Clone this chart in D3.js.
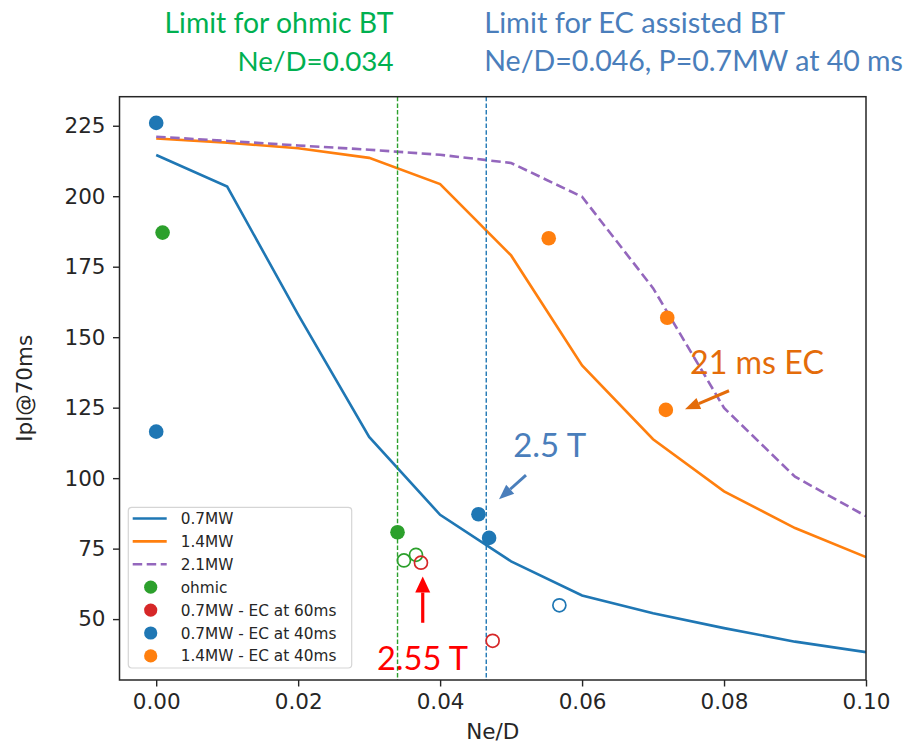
<!DOCTYPE html>
<html>
<head>
<meta charset="utf-8">
<script src="https://cdn.jsdelivr.net/npm/d3@7"></script>
<style>
body { margin: 0; background: #fff; }
svg { display: block; }
</style>
</head>
<body>
<svg id="chart" width="908" height="743"></svg>
<script>
// simulated scans, one value per Ne/D step
const neD     = [0, 0.01, 0.02, 0.03, 0.04, 0.05, 0.06, 0.07, 0.08, 0.09, 0.10];
const ipl07MW = [214.6, 203.4, 158.0, 114.6, 87.0, 70.5, 58.4, 52.1, 46.8, 42.0, 38.3];
const ipl14MW = [220.5, 219.0, 217.0, 213.6, 204.3, 179.0, 140.0, 113.8, 95.3, 82.3, 72.0];
const ipl21MW = [221.1, 219.6, 218.0, 216.5, 214.7, 211.8, 199.8, 167.4, 124.9, 100.5, 86.5];

// measured shots as [Ne/D, Ipl]; "fail" ones are drawn hollow
const ohmicOk    = [[0.0009, 187.1], [0.034, 80.8]];
const ohmicFail  = [[0.0349, 70.8], [0.0366, 72.8]];
const ec60Fail   = [[0.0373, 70.0], [0.0474, 42.3]];
const ec40Ok     = [[0, 226.0], [0, 116.5], [0.0454, 87.2], [0.0469, 78.8]];
const ec40Fail   = [[0.0568, 54.9]];
const ec40HiOk   = [[0.0553, 185.1], [0.072, 156.9], [0.0718, 124.2]];

const xTicks = [0, 0.02, 0.04, 0.06, 0.08, 0.10];
const yTicks = [50, 75, 100, 125, 150, 175, 200, 225];

const ohmicLimit = 0.034;
const ecLimit = 0.0465;

const C = {blue: '#1f77b4', orange: '#ff7f0e', green: '#2ca02c', red: '#d62728', purple: '#9467bd'};

const svg = d3.select('#chart');
const box = {left: 119.5, right: 866, top: 96.7, bottom: 680};

const x = d3.scaleLinear().domain([-0.00517, 0.1]).range([box.left, box.right]);
const y = d3.scaleLinear().domain([28.4, 235.3]).range([box.bottom, box.top]);

svg.append('defs').append('clipPath').attr('id', 'plotclip')
    .append('rect')
    .attr('x', box.left).attr('y', box.top)
    .attr('width', box.right - box.left).attr('height', box.bottom - box.top);

const plot = svg.append('g').attr('clip-path', 'url(#plotclip)');

const line = d3.line().x(function(d, i) { return x(neD[i]); }).y(function(d) { return y(d); });

plot.append('path').datum(ipl07MW).attr('d', line)
    .attr('fill', 'none').attr('stroke', C.blue).attr('stroke-width', 2.6);
plot.append('path').datum(ipl14MW).attr('d', line)
    .attr('fill', 'none').attr('stroke', C.orange).attr('stroke-width', 2.6);
plot.append('path').datum(ipl21MW).attr('d', line)
    .attr('fill', 'none').attr('stroke', C.purple).attr('stroke-width', 2.6)
    .attr('stroke-dasharray', '9.5,4.5');

// limit lines
[[ohmicLimit, C.green], [ecLimit, C.blue]].forEach(function(l) {
    plot.append('line')
        .attr('x1', x(l[0])).attr('x2', x(l[0]))
        .attr('y1', box.top).attr('y2', box.bottom)
        .attr('stroke', l[1]).attr('stroke-width', 1.4)
        .attr('stroke-dasharray', '4.5,2.2');
});

function dots(data, color, hollow) {
    plot.append('g').selectAll('circle').data(data).enter().append('circle')
        .attr('cx', function(d) { return x(d[0]); })
        .attr('cy', function(d) { return y(d[1]); })
        .attr('r', hollow ? 6.5 : 7.3)
        .attr('fill', hollow ? 'none' : color)
        .attr('stroke', color)
        .attr('stroke-width', hollow ? 1.7 : 0);
}
dots(ohmicOk, C.green, false);
dots(ohmicFail, C.green, true);
dots(ec60Fail, C.red, true);
dots(ec40Ok, C.blue, false);
dots(ec40Fail, C.blue, true);
dots(ec40HiOk, C.orange, false);

// axes
const tickFont = '"DejaVu Sans", sans-serif';
const xAxis = svg.append('g').attr('transform', 'translate(0,' + box.bottom + ')')
    .call(d3.axisBottom(x).tickValues(xTicks).tickFormat(d3.format('.2f')).tickSize(6.5).tickPadding(7.5));
const yAxis = svg.append('g').attr('transform', 'translate(' + box.left + ',0)')
    .call(d3.axisLeft(y).tickValues(yTicks).tickFormat(d3.format('d')).tickSize(6.5).tickPadding(7.5));
[xAxis, yAxis].forEach(function(a) {
    a.select('.domain').remove();
    a.selectAll('line').attr('stroke', '#262626').attr('stroke-width', 1.4);
    a.selectAll('text').attr('fill', '#262626').style('font-family', tickFont).style('font-size', '21.5px');
});

svg.append('rect')
    .attr('x', box.left).attr('y', box.top)
    .attr('width', box.right - box.left).attr('height', box.bottom - box.top)
    .attr('fill', 'none').attr('stroke', '#262626').attr('stroke-width', 1.5);

svg.append('text').text('Ne/D')
    .attr('x', (box.left + box.right) / 2).attr('y', 739)
    .attr('text-anchor', 'middle')
    .style('font-family', tickFont).style('font-size', '21.5px').attr('fill', '#262626');
svg.append('text').text('Ipl@70ms')
    .attr('transform', 'translate(32,' + ((box.top + box.bottom) / 2) + ') rotate(-90)')
    .attr('text-anchor', 'middle')
    .style('font-family', tickFont).style('font-size', '21.5px').attr('fill', '#262626');

// legend
const legendItems = [
    {label: '0.7MW', color: C.blue, kind: 'line'},
    {label: '1.4MW', color: C.orange, kind: 'line'},
    {label: '2.1MW', color: C.purple, kind: 'dash'},
    {label: 'ohmic', color: C.green, kind: 'dot'},
    {label: '0.7MW - EC at 60ms', color: C.red, kind: 'dot'},
    {label: '0.7MW - EC at 40ms', color: C.blue, kind: 'dot'},
    {label: '1.4MW - EC at 40ms', color: C.orange, kind: 'dot'}
];
const lg = svg.append('g').attr('transform', 'translate(128.3,507.3)');
lg.append('rect').attr('width', 223.4).attr('height', 160.7).attr('rx', 3.5)
    .attr('fill', 'white').attr('fill-opacity', 0.8)
    .attr('stroke', '#d5d5d5').attr('stroke-width', 1.2);
const row = lg.selectAll('g.row').data(legendItems).enter().append('g')
    .attr('class', 'row')
    .attr('transform', function(d, i) { return 'translate(0,' + (11.2 + i * 22.9) + ')'; });
row.filter(function(d) { return d.kind !== 'dot'; }).append('line')
    .attr('x1', 4.4).attr('x2', 38.4).attr('y1', 0).attr('y2', 0)
    .attr('stroke', function(d) { return d.color; }).attr('stroke-width', 2.6)
    .attr('stroke-dasharray', function(d) { return d.kind === 'dash' ? '9.5,4.5' : null; });
row.filter(function(d) { return d.kind === 'dot'; }).append('circle')
    .attr('cx', 22.4).attr('cy', 0).attr('r', 6.6)
    .attr('fill', function(d) { return d.color; });
row.append('text').text(function(d) { return d.label; })
    .attr('x', 52.4).attr('y', 0).attr('dy', '0.36em')
    .style('font-family', tickFont).style('font-size', '15.3px').attr('fill', '#262626');

// slide annotations
const noteFont = 'Lato, "Open Sans", sans-serif';
function note(text, px, py, color, width, anchor) {
    const t = svg.append('text').text(text)
        .attr('x', px).attr('y', py)
        .attr('text-anchor', anchor || 'start')
        .attr('fill', color)
        .style('font-family', noteFont).style('font-size', '30px');
    const w = t.node().getComputedTextLength();
    t.style('font-size', (30 * width / w) + 'px');
    return t;
}
function arrow(x1, y1, x2, y2, color, lw, headLen, headW) {
    const a = Math.atan2(y2 - y1, x2 - x1);
    const bx = x2 - headLen * Math.cos(a), by = y2 - headLen * Math.sin(a);
    svg.append('line').attr('x1', x1).attr('y1', y1).attr('x2', bx).attr('y2', by)
        .attr('stroke', color).attr('stroke-width', lw);
    const nx = -Math.sin(a) * headW / 2, ny = Math.cos(a) * headW / 2;
    svg.append('path')
        .attr('d', 'M' + x2 + ',' + y2 + 'L' + (bx + nx) + ',' + (by + ny) + 'L' + (bx - nx) + ',' + (by - ny) + 'Z')
        .attr('fill', color);
}

const green = '#00b050', slideBlue = '#4a7ebb', slideOrange = '#e46c0a';
note('Limit for ohmic BT', x(ohmicLimit) - 4, 33, green, 229, 'end');
note('Ne/D=0.034', x(ohmicLimit) - 4, 71, green, 156, 'end');
note('Limit for EC assisted BT', x(ecLimit) - 2, 33, slideBlue, 301, 'start');
note('Ne/D=0.046, P=0.7MW at 40 ms', x(ecLimit) - 2, 71, slideBlue, 419, 'start');

note('21 ms EC', x(0.0752), y(136.8), slideOrange, 134);
arrow(x(0.0807), y(131.0), x(0.0745), y(124.4), slideOrange, 3, 15, 12);

note('2.5 T', x(0.0503), y(107.4), slideBlue, 73);
arrow(x(0.0521), y(101.1), x(0.0483), y(92.5), slideBlue, 3, 15, 12);

note('2.55 T', x(0.0311), y(32.0), '#ff0000', 91);
arrow(x(0.03755), y(48.7), x(0.03755), y(65.1), '#ff0000', 3.2, 16, 15);
</script>
</body>
</html>
